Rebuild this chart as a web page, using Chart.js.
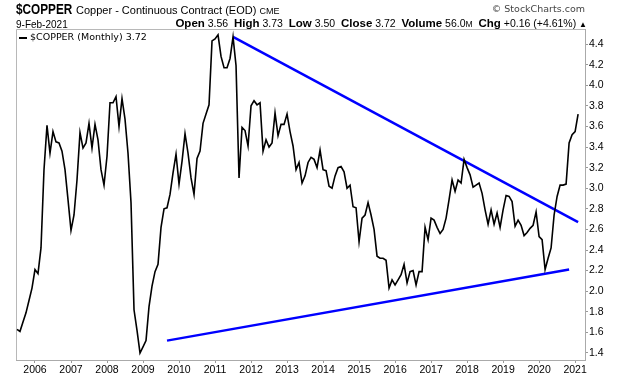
<!DOCTYPE html>
<html>
<head>
<meta charset="utf-8">
<script src="https://cdn.jsdelivr.net/npm/chart.js@4/dist/chart.umd.min.js"></script>
<style>
    body { margin: 0; background: #fff; }
    #wrap { position: relative; width: 620px; height: 376px; overflow: hidden; }
    #c { position: absolute; left: 0; top: 0; }
    .t { position: absolute; white-space: nowrap; color: #000; font-family: 'Liberation Sans', Arial, sans-serif; }
    .b { font-weight: bold; font-size: 11.5px; }
</style>
</head>
<body>
<div id="wrap">
    <canvas id="c" width="620" height="376"></canvas>
    <div class="t" style="left:16px; top:0px; font-weight:bold; font-size:15.5px; transform:scaleX(0.76); transform-origin:left top;">$COPPER</div>
    <div class="t" style="left:76px; top:4px; font-size:11px;">Copper - Continuous Contract (EOD) <span style="font-size:9px;">CME</span></div>
    <div class="t" style="right:35px; top:3px; font-family:'DejaVu Sans',sans-serif; font-size:9.5px; color:#444;">&copy; StockCharts.com</div>
    <div class="t" style="left:16px; top:19px; font-size:10px;">9-Feb-2021</div>
    <div class="t" style="right:33px; top:17px; font-size:10.5px;">
        <span class="b">Open</span> 3.56&nbsp; <span class="b">High</span> 3.73&nbsp; <span class="b">Low</span> 3.50&nbsp;
        <span class="b">Close</span> 3.72&nbsp; <span class="b">Volume</span> 56.0<span style="font-size:8.5px;">M</span>&nbsp;
        <span class="b">Chg</span> +0.16 (+4.61%) <span style="font-size:8px;">&#9650;</span>
    </div>
    <div class="t" style="left:19px; top:31px; font-family:'DejaVu Sans',sans-serif; font-size:9.5px;">
        <span style="display:inline-block; width:8px; height:2px; background:#000; vertical-align:middle; margin-right:3px;"></span>$COPPER (Monthly) 3.72
    </div>
</div>

<script>
// --- dados (fechamento mensal, jul/2005 .. fev/2021) ---
const startYear = 2005;
const startMonth = 7;

const closes = [
    1.63, 1.61, 1.70, 1.79, 1.91, 2.03,
    2.21, 2.17, 2.42, 3.18, 3.61, 3.34, 3.55, 3.45, 3.44, 3.36, 3.18, 2.89,
    2.59, 2.74, 3.08, 3.54, 3.39, 3.44, 3.63, 3.39, 3.62, 3.47, 3.18, 3.03,
    3.31, 3.83, 3.83, 3.89, 3.60, 3.87, 3.67, 3.34, 2.86, 1.82, 1.62, 1.40,
    1.46, 1.52, 1.85, 2.05, 2.19, 2.26, 2.62, 2.80, 2.81, 2.94, 3.15, 3.33,
    3.04, 3.26, 3.53, 3.34, 3.10, 2.94, 3.29, 3.36, 3.63, 3.72, 3.81, 4.43,
    4.45, 4.49, 4.28, 4.17, 4.17, 4.26, 4.47, 4.19, 3.10, 3.59, 3.56, 3.41,
    3.80, 3.85, 3.81, 3.83, 3.36, 3.47, 3.40, 3.44, 3.73, 3.51, 3.62, 3.62,
    3.72, 3.55, 3.41, 3.18, 3.25, 3.05, 3.12, 3.25, 3.30, 3.28, 3.20, 3.37,
    3.18, 3.17, 3.02, 3.00, 3.12, 3.20, 3.21, 3.16, 3.00, 3.03, 2.82, 2.81,
    2.48, 2.71, 2.74, 2.86, 2.74, 2.60, 2.34, 2.32, 2.32, 2.30, 2.03, 2.11,
    2.06, 2.11, 2.16, 2.26, 2.08, 2.19, 2.20, 2.06, 2.19, 2.19, 2.62, 2.50,
    2.71, 2.69, 2.62, 2.56, 2.60, 2.71, 2.89, 3.08, 2.97, 3.08, 3.05, 3.28,
    3.20, 3.13, 3.01, 3.03, 3.05, 2.95, 2.79, 2.65, 2.79, 2.65, 2.76, 2.62,
    2.79, 2.93, 2.92, 2.87, 2.63, 2.69, 2.64, 2.54, 2.57, 2.61, 2.64, 2.77,
    2.53, 2.50, 2.21, 2.32, 2.42, 2.74, 2.92, 3.03, 3.03, 3.04, 3.44, 3.52,
    3.55, 3.72
];

// linhas de tendencia: [ano, mes, valor]
const resistance = [[2011, 7, 4.47], [2021, 2, 2.67]];
const support = [[2009, 9, 1.52], [2020, 11, 2.21]];

const yearLabels = ['2006', '2007', '2008', '2009', '2010', '2011', '2012', '2013',
    '2014', '2015', '2016', '2017', '2018', '2019', '2020', '2021'];
const priceTicks = [1.4, 1.6, 1.8, 2.0, 2.2, 2.4, 2.6, 2.8, 3.0, 3.2, 3.4, 3.6, 3.8, 4.0, 4.2, 4.4];

// indice de meses a partir de jan/2006
function monthIdx(year, month) { return (year - 2006) * 12 + (month - 1); }

const firstIdx = monthIdx(startYear, startMonth);
const pricePoints = closes.map((v, i) => ({ x: firstIdx + i, y: v }));
const trendPoints = arr => arr.map(p => ({ x: monthIdx(p[0], p[1]), y: p[2] }));

const frame = {
    id: 'frame',
    beforeDatasetsDraw(chart) {
        const { ctx, chartArea: a } = chart;
        ctx.save();
        ctx.strokeStyle = '#b8b8b8';
        ctx.lineWidth = 1;
        ctx.beginPath();
        ctx.moveTo(a.left + 0.5, a.bottom);
        ctx.lineTo(a.left + 0.5, a.top + 0.5);
        ctx.lineTo(a.right, a.top + 0.5);
        ctx.stroke();
        ctx.restore();
    }
};

new Chart(document.getElementById('c'), {
    type: 'line',
    data: {
        datasets: [
            { data: pricePoints, borderColor: '#000', borderWidth: 1.6, pointRadius: 0, tension: 0 },
            { data: trendPoints(resistance), borderColor: '#0000ff', borderWidth: 2.5, pointRadius: 0 },
            { data: trendPoints(support), borderColor: '#0000ff', borderWidth: 2.5, pointRadius: 0 }
        ]
    },
    options: {
        responsive: false,
        animation: false,
        layout: { padding: { top: 29, left: 16, right: 0, bottom: 0 } },
        plugins: { legend: { display: false }, tooltip: { enabled: false } },
        scales: {
            x: {
                type: 'linear',
                min: -6.33,
                max: 183.3,
                afterBuildTicks: s => { s.ticks = yearLabels.map((l, i) => ({ value: i * 12 })); },
                afterFit: s => { s.height = 16; },
                grid: { drawOnChartArea: false, tickLength: 3, color: '#999' },
                border: { color: '#aaa', dash: [1, 1] },
                ticks: {
                    autoSkip: false, maxRotation: 0, padding: 1, color: '#000',
                    font: { family: 'Liberation Sans', size: 10.5 },
                    callback: (v, i) => yearLabels[i]
                }
            },
            y: {
                position: 'right',
                min: 1.332,
                max: 4.546,
                afterBuildTicks: s => { s.ticks = priceTicks.map(v => ({ value: v })); },
                afterFit: s => { s.width = 35; },
                grid: { drawOnChartArea: false, tickLength: 3, color: '#999' },
                border: { color: '#aaa', dash: [1, 1] },
                ticks: {
                    padding: 1, color: '#000',
                    font: { family: 'Liberation Sans', size: 10.5 },
                    callback: v => v.toFixed(1)
                }
            }
        }
    },
    plugins: [frame]
});
</script>
</body>
</html>
